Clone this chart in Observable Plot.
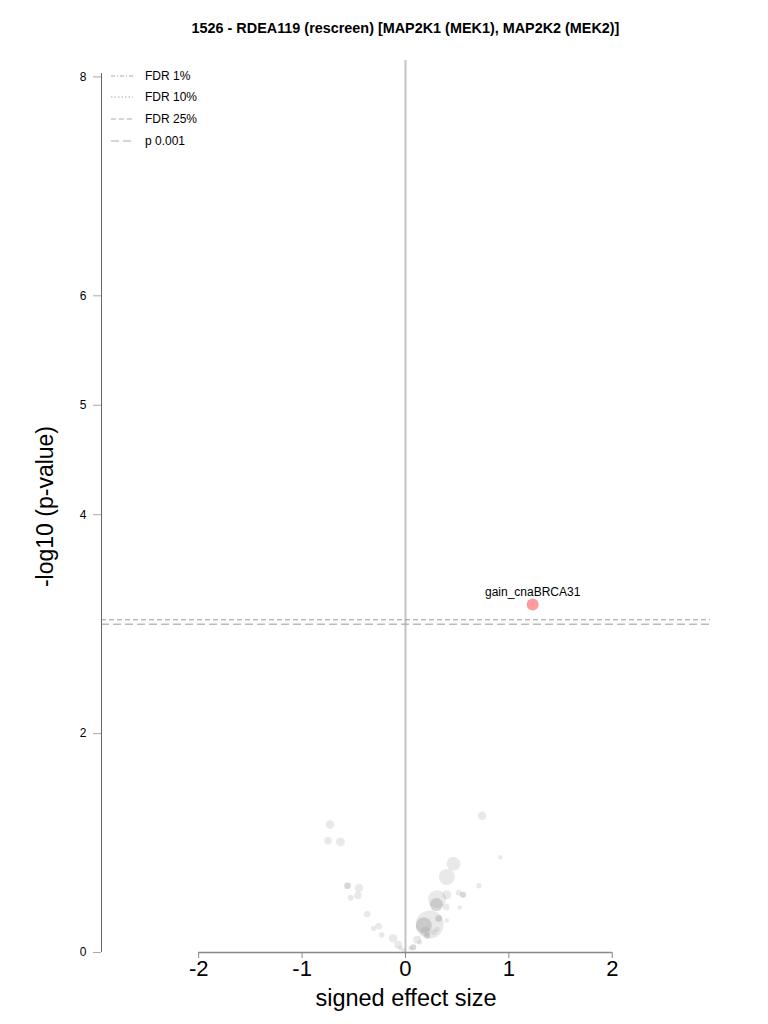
<!DOCTYPE html>
<html>
<head>
<meta charset="utf-8">
<script src="https://cdn.jsdelivr.net/npm/d3@7"></script>
<script src="https://cdn.jsdelivr.net/npm/@observablehq/plot@0.6"></script>
<style>
  html, body { margin: 0; padding: 0; background: #fff; }
  body { width: 768px; height: 1024px; position: relative; font-family: Arial, "Liberation Sans", Helvetica, sans-serif; overflow: hidden; }
  #title { position: absolute; left: 101px; width: 609px; top: 19px; text-align: center; font-weight: bold; font-size: 14.4px; line-height: 18px; color: #000; }
  #chart { position: absolute; left: 0; top: 40px; }
  #legend { position: absolute; left: 108px; top: 65px; font-size: 12px; color: #000; }
  #legend .row { height: 21.6px; display: flex; align-items: center; }
  #legend svg { width: 30px; height: 10px; margin-right: 7px; }
</style>
</head>
<body>
<div id="title"></div>
<div id="chart"></div>
<div id="legend"></div>
<script>
const titleText = "1526 - RDEA119 (rescreen) [MAP2K1 (MEK1), MAP2K2 (MEK2)]";

// background features: signed effect size, -log10 p, and a size count
const effect = [-0.73,-0.75,-0.63,-0.56,-0.56,-0.45,-0.53,-0.46,-0.37,-0.31,-0.26,-0.23,-0.12,-0.07,-0.05,-0.02,
  0.741,0.918,0.464,0.40,0.71,0.515,0.557,0.557,0.40,0.306,0.299,0.299,0.393,0.525,0.322,0.322,0.40,
  0.235,0.177,0.177,0.193,0.21,0.21,0.273,0.306,0.113,0.138,0.075,0.075,0.048];
const logp = [1.17,1.02,1.01,0.61,0.61,0.59,0.50,0.52,0.35,0.22,0.24,0.16,0.13,0.07,0.04,0.02,
  1.25,0.87,0.81,0.69,0.61,0.545,0.527,0.527,0.527,0.487,0.438,0.438,0.414,0.411,0.311,0.311,0.292,
  0.256,0.247,0.247,0.192,0.155,0.155,0.185,0.21,0.116,0.094,0.048,0.048,0.039];
const nFeat = [18,14,20,11,11,18,9,14,11,7,11,7,18,16,6,5,
  18,5,49,64,7,9,9,9,20,81,42,42,11,5,11,11,5,
  196,64,64,25,9,9,9,6,16,6,9,9,5];

// significant hit
const hitName = ["gain_cnaBRCA31"];
const hitEffect = [1.23];
const hitLogp = [3.18];
const hitN = [36];

// thresholds
const threshName = ["FDR 1%", "FDR 10%", "FDR 25%", "p 0.001"];
const threshValue = [null, null, 3.04, 3.0];
const threshDash = ["4,2,1,2", "1.5,2", "5,3", "8,4"];

const xTicks = [-2, -1, 0, 1, 2];
const yTicks = [0, 2, 4, 5, 6, 8];

document.getElementById("title").textContent = titleText;

const pts = effect.map((x, i) => ({x, y: logp[i], n: nFeat[i]}));
const hits = hitName.map((name, i) => ({name, x: hitEffect[i], y: hitLogp[i], n: hitN[i]}));
const thr = threshName.map((name, i) => ({name, y: threshValue[i], dash: threshDash[i]})).filter(d => d.y != null);

const xDom = [-2.94, 2.95];
const yDom = [0, 8.15];

const plot = Plot.plot({
  width: 768,
  height: 984,
  marginLeft: 101,
  marginRight: 58,
  marginTop: 20,
  marginBottom: 72,
  style: {fontFamily: "Arial, 'Liberation Sans', Helvetica, sans-serif", background: "#fff"},
  x: {domain: xDom},
  y: {domain: yDom},
  r: {type: "sqrt", domain: [0, 196], range: [0, 14]},
  marks: [
    Plot.ruleX([0], {stroke: "#c4c4c4", strokeWidth: 2}),
    ...thr.map(t => Plot.ruleY([t.y], {stroke: "#9a9a9a", strokeWidth: 1, strokeDasharray: t.dash})),
    Plot.dot(pts, {x: "x", y: "y", r: "n", fill: "#999", fillOpacity: 0.22, stroke: "none"}),
    Plot.dot(hits, {x: "x", y: "y", r: "n", fill: "#ff9a9e", stroke: "none"}),
    Plot.text(hits, {x: "x", y: "y", text: "name", dy: -12, fontSize: 12, fill: "#000"}),
    Plot.ruleX([xDom[0]], {y1: 0, y2: yDom[1] - 0.12, stroke: "#666", strokeWidth: 1}),
    Plot.ruleY([0], {x1: -2, x2: 2, stroke: "#888", strokeWidth: 1.5}),
    Plot.axisY({ticks: yTicks, tickSize: 8, tickPadding: 7, fontSize: 12, tickFormat: d => String(d), label: null, stroke: "#aaa", color: "#000"}),
    Plot.axisY({ticks: [], label: "-log10 (p-value)", labelAnchor: "center", labelArrow: "none", labelOffset: 65, fontSize: 23}),
    Plot.axisX({ticks: xTicks, tickSize: 6, tickPadding: 2, fontSize: 22, tickFormat: d => String(d), label: null, stroke: "#888"}),
    Plot.axisX({ticks: [], label: "signed effect size", labelAnchor: "center", labelArrow: "none", labelOffset: 53, fontSize: 23.5})
  ]
});
document.getElementById("chart").appendChild(plot);

// legend
const legend = d3.select("#legend");
threshName.forEach((name, i) => {
  const row = legend.append("div").attr("class", "row");
  const s = row.append("svg");
  s.append("line").attr("x1", 3).attr("x2", 25).attr("y1", 5).attr("y2", 5)
    .attr("stroke", "#aaa").attr("stroke-width", 1).attr("stroke-dasharray", threshDash[i]);
  row.append("span").text(name);
});
</script>
</body>
</html>
